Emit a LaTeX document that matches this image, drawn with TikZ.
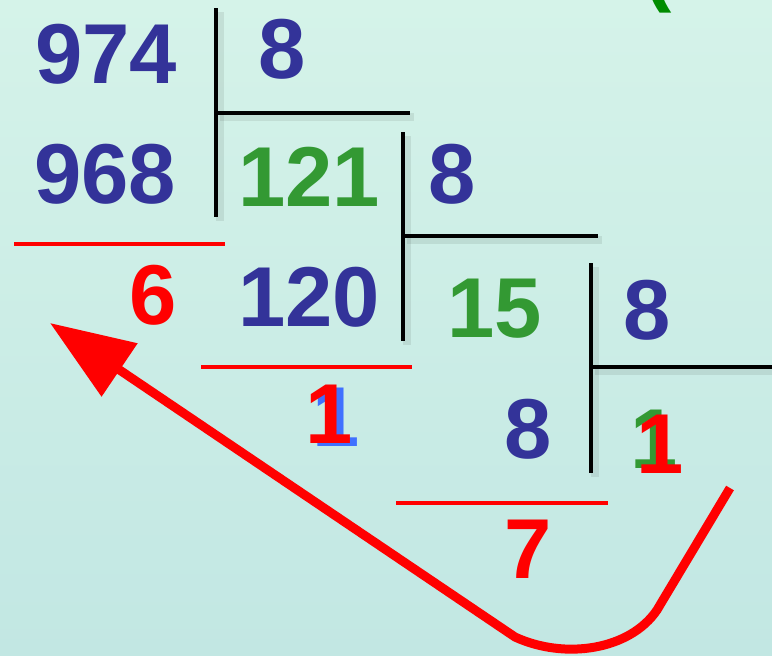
\documentclass[tikz,border=0pt]{standalone}
\usepackage{fontspec}
\setmainfont{Liberation Sans}
\usetikzlibrary{arrows.meta}

\definecolor{numblue}{RGB}{51,51,153}
\definecolor{numgreen}{RGB}{51,153,51}
\definecolor{numred}{RGB}{255,0,0}
\definecolor{ghostblue}{RGB}{64,112,255}
\definecolor{pargreen}{RGB}{0,140,0}
\definecolor{bgtop}{RGB}{213,243,233}
\definecolor{bgbot}{RGB}{194,231,227}

\tikzset{
  num/.style={inner sep=0pt,anchor=base,font=\fontsize{85}{90}\selectfont\bfseries},
  bar/.style={line width=4pt,black},
  barshadow/.style={line width=8pt,black,opacity=0.08},
  redbar/.style={line width=4pt,numred},
}

\begin{document}
\begin{tikzpicture}[x=1pt,y=-1pt]
  \useasboundingbox (0,0) rectangle (772,656);
  \clip (0,0) rectangle (772,656);
  \shade[top color=bgtop,bottom color=bgbot] (0,0) rectangle (772,656);
  % division bars
  \foreach \x/\top/\bot/\hy/\hx in {216/8/217/113/410, 403/132/341/236/598, 591/263/473/367/772}
  {
    \draw[barshadow] (\x+4,\top+4) -- (\x+4,\bot+4);
    \draw[barshadow] (\x+4,\hy+4) -- (\hx+4,\hy+4);
    \draw[bar] (\x,\top) -- (\x,\bot);
    \draw[bar] (\x,\hy) -- (\hx,\hy);
  }
  \foreach \y/\xa/\xb in {244/14/225, 367/201/412, 503/396/608}
  {
    \draw[redbar] (\xa,\y) -- (\xb,\y);
  }
  % numbers
  \foreach \nm/\txt/\x/\y/\c in {dvd/974/106/83/numblue, dvsa/8/282/78/numblue,
    suba/968/105/203/numblue, quoa/121/309/206/numgreen, dvsb/8/452/203/numblue,
    rema/6/153/324/numred, subb/120/309/326/numblue, quob/15/495/337/numgreen,
    dvsc/8/647/339/numblue, subc/8/528/458/numblue, remc/7/528/578/numred}
  {
    \node[num,text=\c] (\nm) at (\x,\y) {\txt};
  }
  \node[num,text=ghostblue] (rembghost) at (336,446) {1};
  \node[num,text=numred] (remb) at (329,443) {1};
  \node[num,text=numgreen] (quocghost) at (654,468) {1};
  \node[num,text=numred] (quoc) at (660,473) {1};
  \node[num,text=pargreen] (paren) at (658,-5) {(};
  % arrow back to the first remainder
  \coordinate (arrstart) at (730,488);
  \coordinate (arrtip) at (50,323);
  \draw[numred,line width=9pt,-{Triangle[length=84pt,width=62pt]}]
    (arrstart) -- (657,610) .. controls (630,650) and (565,660) .. (515,637) -- (arrtip);
\end{tikzpicture}
\end{document}
